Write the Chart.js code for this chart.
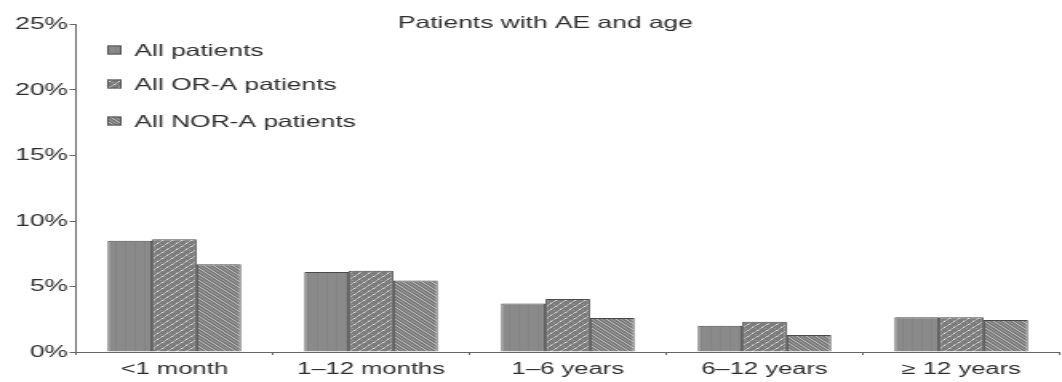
<!DOCTYPE html>
<html>
<head>
<meta charset="utf-8">
<script src="https://cdn.jsdelivr.net/npm/chart.js@4/dist/chart.umd.min.js"></script>
<style>
  html, body { margin: 0; padding: 0; background: #fff; overflow: hidden; }
  #wrap { width: 664px; height: 382px; transform: scaleX(1.5994); transform-origin: 0 0; }
  canvas { display: block; }
</style>
</head>
<body>
<div id="wrap"><canvas id="chart" width="664" height="382"></canvas></div>
<script>
// Age groups on the x axis
const categories = ['<1 month', '1\u201312 months', '1\u20136 years', '6\u201312 years', '\u2265 12 years'];

// Share of patients with an adverse event, in percent
const allPatients  = [8.5, 6.1, 3.7, 2.0, 2.65];
const orAPatients  = [8.6, 6.2, 4.05, 2.3, 2.65];
const norAPatients = [6.7, 5.45, 2.6, 1.3, 2.45];

// Y axis tick values (percent)
const yTicks = [0, 5, 10, 15, 20, 25];

const seriesNames = ['All patients', 'All OR-A patients', 'All NOR-A patients'];
const chartTitle = 'Patients with AE and age';

const FONT = '"Liberation Sans", Arial, Helvetica, sans-serif';
const TEXT = '#2e2e2e';
const AXIS = '#666';

// Grey fills with a small repeating texture
function makePattern(kind) {
  const c = document.createElement('canvas');
  c.width = 6; c.height = 6;
  const g = c.getContext('2d');
  if (kind === 'solid') {
    g.fillStyle = '#8a8a8a';
    g.fillRect(0, 0, 6, 6);
    g.fillStyle = '#858585';
    g.fillRect(0, 0, 1, 6);
  } else if (kind === 'cross') {
    g.fillStyle = '#7c7c7c';
    g.fillRect(0, 0, 6, 6);
    g.fillStyle = '#b4b4b4';
    for (let i = 0; i < 6; i++) g.fillRect(5 - i, i, 1, 1);
    g.fillStyle = '#9a9a9a';
    for (let i = 0; i < 6; i += 2) g.fillRect(i, i, 1, 1);
    g.fillStyle = '#dedede';
    g.fillRect(2, 3, 1, 1);
    g.fillRect(5, 0, 1, 1);
  } else {
    g.fillStyle = '#7c7c7c';
    g.fillRect(0, 0, 6, 6);
    g.fillStyle = '#bcbcbc';
    for (let i = 0; i < 6; i++) g.fillRect(i, i, 1, 1);
    g.fillStyle = '#999';
    for (let i = 0; i < 6; i++) g.fillRect((i + 3) % 6, i, 1, 1);
  }
  return g.createPattern(c, 'repeat');
}

const fills = [makePattern('solid'), makePattern('cross'), makePattern('diag')];

// Title and legend are drawn as text on top of the plot
const overlay = {
  id: 'overlay',
  afterDraw(chart) {
    const ctx = chart.ctx;
    ctx.save();
    ctx.fillStyle = TEXT;
    ctx.font = '16.5px ' + FONT;
    ctx.textAlign = 'center';
    ctx.textBaseline = 'alphabetic';
    ctx.fillText(chartTitle, 341, 28);

    const rows = [50, 84, 121];
    ctx.textAlign = 'left';
    ctx.textBaseline = 'middle';
    chart.data.datasets.forEach((ds, i) => {
      const y = rows[i];
      ctx.fillStyle = ds.backgroundColor;
      ctx.fillRect(67, y - 4.5, 9, 9);
      ctx.strokeStyle = '#555';
      ctx.lineWidth = 1;
      ctx.strokeRect(67.5, y - 4, 8, 8);
      ctx.fillStyle = TEXT;
      ctx.fillText(ds.label, 84, y + 1);
    });
    ctx.restore();
  }
};

const values = [allPatients, orAPatients, norAPatients];

new Chart(document.getElementById('chart'), {
  type: 'bar',
  data: {
    labels: categories,
    datasets: values.map((v, i) => ({
      label: seriesNames[i],
      data: v,
      backgroundColor: fills[i],
      borderColor: '#4a4a4a',
      borderWidth: 1,
      borderSkipped: 'bottom',
      barPercentage: 1,
      categoryPercentage: 0.678
    }))
  },
  options: {
    responsive: false,
    animation: false,
    devicePixelRatio: 1,
    layout: { padding: { top: 24.5, right: 1.5, bottom: 0, left: 0 } },
    plugins: {
      legend: { display: false },
      title: { display: false },
      tooltip: { enabled: false }
    },
    scales: {
      x: {
        offset: true,
        grid: { drawOnChartArea: false, drawTicks: true, tickLength: 3, color: AXIS, offset: true },
        border: { display: true, color: AXIS, width: 1 },
        ticks: { color: TEXT, font: { family: FONT, size: 16 }, padding: 5, maxRotation: 0, autoSkip: false },
        afterFit(s) { s.height = 30; }
      },
      y: {
        min: 0,
        max: 25,
        afterBuildTicks(s) { s.ticks = yTicks.map(v => ({ value: v })); },
        grid: { drawOnChartArea: false, drawTicks: true, tickLength: 4, color: AXIS },
        border: { display: true, color: AXIS, width: 1 },
        ticks: { color: TEXT, font: { family: FONT, size: 16.5 }, padding: 1, callback: v => v + '%' },
        afterFit(s) { s.width = 47.5; }
      }
    }
  },
  plugins: [overlay]
});
</script>
</body>
</html>
